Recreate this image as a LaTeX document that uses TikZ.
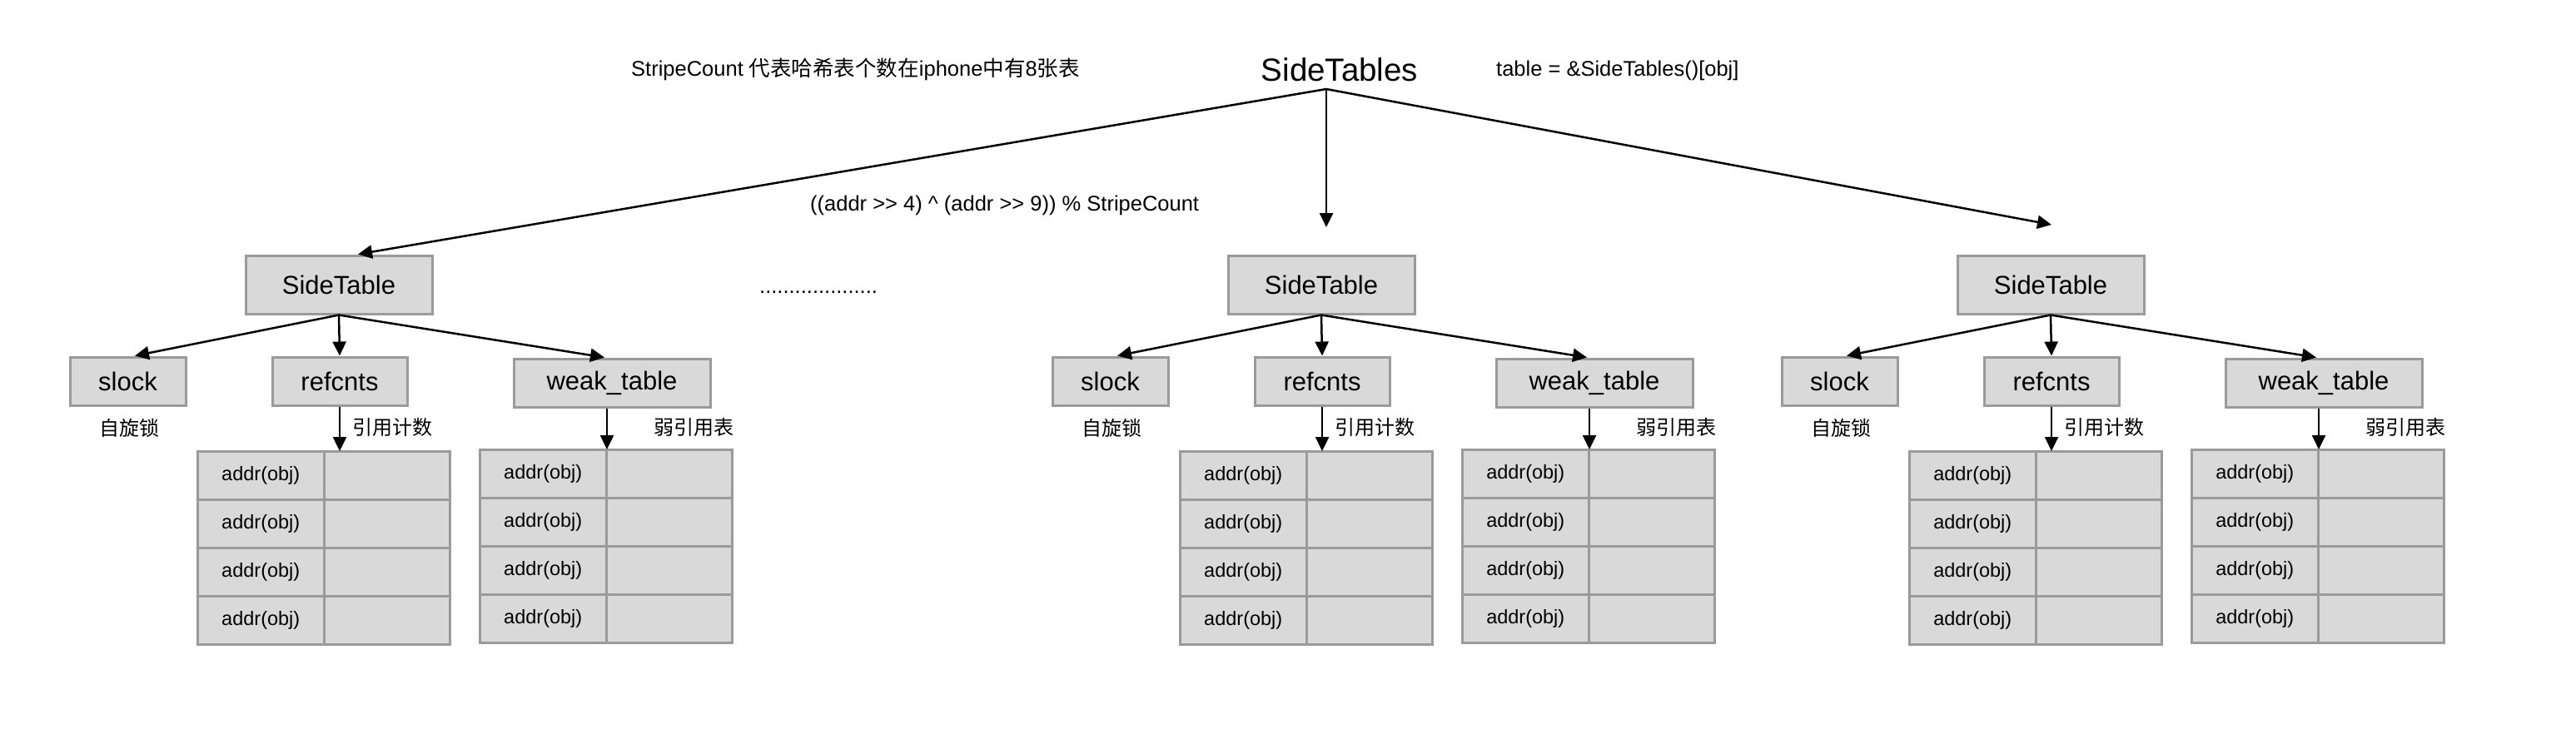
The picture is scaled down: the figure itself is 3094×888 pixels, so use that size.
\documentclass[tikz,border=0pt]{standalone}
\usepackage{fontspec}
\setmainfont{Liberation Sans}
\newfontfamily\cjk{Noto Sans CJK SC}
\usetikzlibrary{arrows.meta}
\definecolor{boxfill}{HTML}{D9D9D9}
\definecolor{boxline}{HTML}{9A9A9A}
\tikzset{
  box/.style={draw=boxline, fill=boxfill, line width=3pt, inner sep=0pt,
    font=\fontsize{31}{37}\selectfont},
  cell/.style={draw=boxline, fill=boxfill, line width=3pt, inner sep=0pt, outer sep=0pt,
    anchor=north west, minimum height=58, font=\fontsize{23.5}{28}\selectfont},
  arr/.style={line width=2.5pt, -{Triangle[length=17pt,width=16pt]}},
  toptext/.style={inner sep=0pt, font=\fontsize{25.5}{30}\selectfont},
  cnlabel/.style={inner sep=0pt, font=\fontsize{24}{28}\selectfont\cjk},
}
\newcommand\sidegroup[2]{%
\begin{scope}[shift={(#2,0)}]
  \node[box, minimum width=224, minimum height=70] (#1st) at (407,342) {SideTable};
  \node[box, minimum width=139, minimum height=58] (#1sl) at (153.5,458) {slock};
  \node[box, minimum width=162, minimum height=58] (#1rc) at (408,458) {refcnts};
  \node[box, minimum width=236, minimum height=58] (#1wk) at (735,460) {weak\_table};
  \node[cnlabel] (#1lsl) at (155,514) {自旋锁};
  \node[cnlabel, anchor=west] (#1lrc) at (423,513) {引用计数};
  \node[cnlabel, anchor=west] (#1lwk) at (785,513) {弱引用表};
  \foreach \i in {0,1,2,3} {
    \node[cell, minimum width=151.5] (#1ra\i) at ({237.5},{542+\i*58}) {addr(obj)};
    \node[cell, minimum width=151] (#1rb\i) at ({389},{542+\i*58}) {};
    \node[cell, minimum width=151.5] (#1wa\i) at ({576.5},{540+\i*58}) {addr(obj)};
    \node[cell, minimum width=151] (#1wb\i) at ({728},{540+\i*58}) {};
  }
  \draw[arr] (#1st.south) -- ([xshift=8.5]#1sl.north);
  \draw[arr] (#1st.south) -- (#1rc.north);
  \draw[arr] (#1st.south) -- ([xshift=-9]#1wk.north);
  \draw[arr] (#1rc.south) -- (#1rc.south |- #1rb0.north);
  \draw[arr] ([xshift=-6]#1wk.south) -- ([xshift=-6]#1wk.south |- #1wb0.north);
\end{scope}}
\begin{document}
\begin{tikzpicture}[x=1pt,y=-1pt]
  \fill[white] (0,0) rectangle (3094,888);
  \useasboundingbox (0,0) rectangle (3094,888);
  \sidegroup{A}{0}
  \sidegroup{B}{1180}
  \sidegroup{C}{2056}
  \node[inner sep=0pt, anchor=base, font=\fontsize{38.5}{46}\selectfont] (ST) at (1609,98) {SideTables};
  \node[toptext, anchor=base west] (note) at (758,92) {StripeCount {\cjk 代表哈希表个数在}iphone{\cjk 中有}8{\cjk 张表}};
  \node[toptext, anchor=base west] (tbl) at (1797,92) {table = \&SideTables()[obj]};
  \node[toptext, anchor=base west] (hash) at (973,253) {((addr >{}> 4) \^{} (addr >{}> 9)) \% StripeCount};
  \node[toptext, anchor=base west] (dots) at (912,352) {....................};
  \coordinate (root) at (1593,107);
  \coordinate (midtip) at (1593,273);
  \coordinate (righttip) at (2464,270);
  \draw[arr] (root) -- ([xshift=23]Ast.north);
  \draw[arr] (root) -- (midtip);
  \draw[arr] (root) -- (righttip);
\end{tikzpicture}
\end{document}
